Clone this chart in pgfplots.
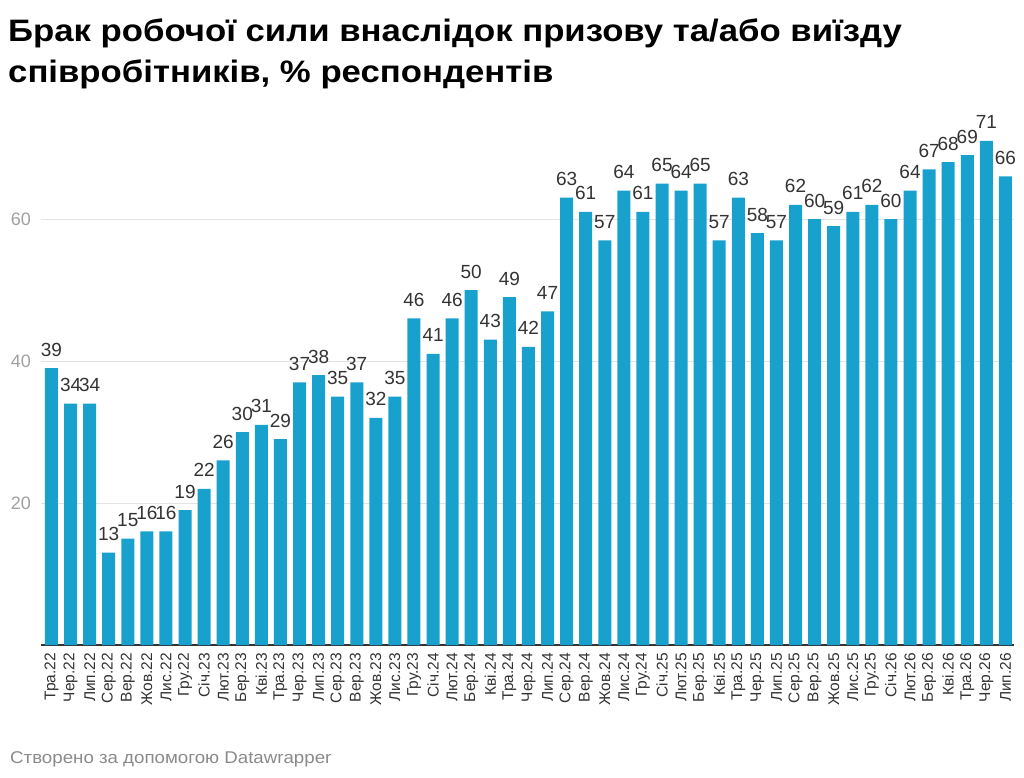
\documentclass[border=0pt]{standalone}
\usepackage{pgfplots}
\pgfplotsset{compat=1.18}
\usepackage{pgfplotstable}
\usepackage{fontspec}
\setmainfont{Liberation Sans}
\newfontfamily\titlefont[FakeStretch=1.12]{Liberation Sans}
\newfontfamily\footfont[FakeStretch=1.1]{Liberation Sans}
\definecolor{barblue}{HTML}{18A1CD}
\definecolor{txtdark}{HTML}{333333}
\definecolor{txtgray}{HTML}{A0A0A0}
\definecolor{footgray}{HTML}{8A8A8A}
\definecolor{gridgray}{HTML}{E3E3E3}
\pgfplotstableread{
idx val
0 39
1 34
2 34
3 13
4 15
5 16
6 16
7 19
8 22
9 26
10 30
11 31
12 29
13 37
14 38
15 35
16 37
17 32
18 35
19 46
20 41
21 46
22 50
23 43
24 49
25 42
26 47
27 63
28 61
29 57
30 64
31 61
32 65
33 64
34 65
35 57
36 63
37 58
38 57
39 62
40 60
41 59
42 61
43 62
44 60
45 64
46 67
47 68
48 69
49 71
50 66
}\datatable
\begin{document}
\begin{tikzpicture}
\useasboundingbox (0pt,0pt) rectangle (1024pt,777pt);
\node[anchor=base west, inner sep=0pt, font=\titlefont\bfseries\fontsize{31}{36}\selectfont, text=black] at (8pt,735pt) {Брак робочої сили внаслідок призову та/або виїзду};
\node[anchor=base west, inner sep=0pt, font=\titlefont\bfseries\fontsize{31}{36}\selectfont, text=black] at (8pt,694pt) {співробітників, \% респондентів};
\node[anchor=base west, inner sep=0pt, font=\footfont\fontsize{17}{20}\selectfont, text=footgray] at (10pt,14pt) {Створено за допомогою Datawrapper};
\begin{axis}[
  at={(41pt,132pt)}, anchor=south west,
  scale only axis,
  width=973pt, height=532.5pt,
  xmin=-0.55, xmax=50.45,
  ymin=0, ymax=75,
  ybar, bar width=13pt, bar shift=0pt,
  axis x line*=bottom, axis y line*=left,
  y axis line style={draw=none},
  x axis line style={draw=txtdark, line width=1.6pt, -},
  major tick length=0pt,
  tick style={draw=none},
  ytick={20,40,60},
  ymajorgrids, grid style={draw=gridgray, line width=0.9pt},
  xtick=data,
  xticklabels={Тра.22,Чер.22,Лип.22,Сер.22,Вер.22,Жов.22,Лис.22,Гру.22,Січ.23,Лют.23,Бер.23,Кві.23,Тра.23,Чер.23,Лип.23,Сер.23,Вер.23,Жов.23,Лис.23,Гру.23,Січ.24,Лют.24,Бер.24,Кві.24,Тра.24,Чер.24,Лип.24,Сер.24,Вер.24,Жов.24,Лис.24,Гру.24,Січ.25,Лют.25,Бер.25,Кві.25,Тра.25,Чер.25,Лип.25,Сер.25,Вер.25,Жов.25,Лис.25,Гру.25,Січ.26,Лют.26,Бер.26,Кві.26,Тра.26,Чер.26,Лип.26},
  xticklabel style={yshift=-8pt, rotate=90, anchor=east, inner sep=0pt, font=\fontsize{15.5}{18}\selectfont, text=txtdark},
  yticklabel style={anchor=east, inner sep=0pt, xshift=-10pt, font=\fontsize{18}{20}\selectfont, text=txtgray},
  /pgf/number format/assume math mode=true,
  nodes near coords,
  every node near coord/.append style={anchor=base, yshift=12pt, inner sep=0pt, font=\fontsize{19}{21}\selectfont, text=txtdark},
  clip=false,
]
\addplot[fill=barblue, draw=none] table[x=idx, y=val] {\datatable};
\end{axis}
\end{tikzpicture}
\end{document}
